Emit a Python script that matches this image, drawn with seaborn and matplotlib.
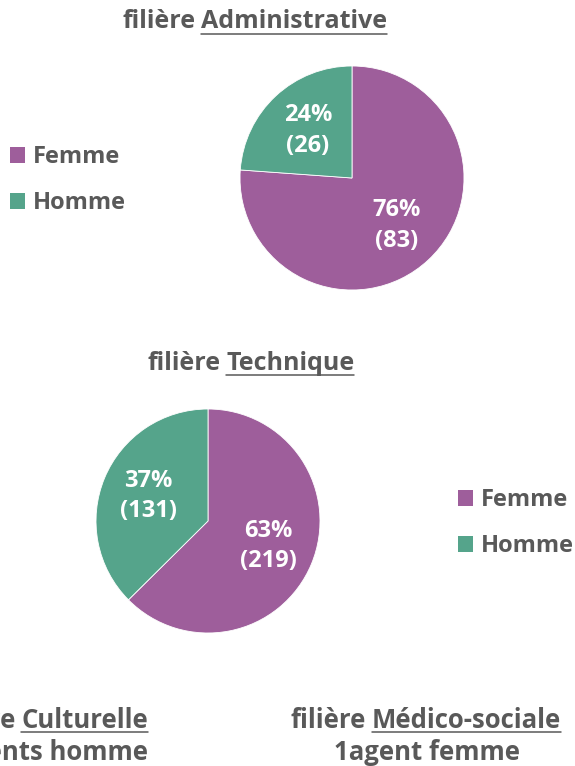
import matplotlib
matplotlib.use("Agg")
import matplotlib.pyplot as plt
import seaborn as sns
from matplotlib.patches import Patch
from matplotlib.lines import Line2D

sns.set_theme(style="white")
plt.rcParams['font.family'] = ['Open Sans', 'DejaVu Sans']

# data
genres = ['Femme', 'Homme']
admin_vals = [83, 26]
tech_vals = [219, 131]
couleurs = ['#9E5E9B', '#55A48B']
gris = '#595959'

W, H = 575, 766
fig = plt.figure(figsize=(W / 100, H / 100), dpi=100)
renderer = fig.canvas.get_renderer()


def px(x, y):
    return x / W, 1 - y / H


def titre(x, y, prefix, word, size=18, align='center'):
    t1 = fig.text(0, 0, prefix, fontsize=size, fontweight='bold', color=gris)
    t2 = fig.text(0, 0, word, fontsize=size, fontweight='bold', color=gris)
    w1 = t1.get_window_extent(renderer).width
    w2 = t2.get_window_extent(renderer).width
    gap = size * 0.3
    total = w1 + gap + w2
    x0 = x - total / 2 if align == 'center' else x - total
    t1.set_position(px(x0, y)); t1.set_va('center')
    t2.set_position(px(x0 + w1 + gap, y)); t2.set_va('center')
    xa, ya = px(x0 + w1 + gap, y + 12)
    xb, _ = px(x0 + w1 + gap + w2, y + 12)
    fig.add_artist(Line2D([xa, xb], [ya, ya], color=gris, lw=1.1))


def camembert(left, top, r, vals):
    ax = fig.add_axes([left / W, 1 - (top + 2 * r) / H, 2 * r / W, 2 * r / H])
    total = sum(vals)
    ax.pie(vals, colors=couleurs, startangle=90, counterclock=False,
           autopct=lambda p: f"{p:.0f}%\n({round(p * total / 100)})",
           pctdistance=0.58, radius=1,
           wedgeprops=dict(edgecolor='white', linewidth=0.6),
           textprops=dict(color='white', fontsize=17, fontweight='bold', linespacing=1.35))
    ax.set_xlim(-1, 1)
    ax.set_ylim(-1, 1)
    ax.set_aspect('equal')
    return ax


def legende(x, y):
    handles = [Patch(facecolor=c, edgecolor='none') for c in couleurs]
    fig.legend(handles, genres, loc='upper left', bbox_to_anchor=px(x, y),
               frameon=False, handlelength=0.65, handleheight=0.65,
               handletextpad=0.3, labelspacing=0.95, borderpad=0, borderaxespad=0,
               prop=dict(size=17, weight='bold'), labelcolor=gris)


# filière Administrative
titre(255, 22, 'filière', 'Administrative')
camembert(240, 66, 112, admin_vals)
legende(10, 145)

# filière Technique
titre(251, 363, 'filière', 'Technique')
camembert(96, 409, 112, tech_vals)
legende(458, 488)

# autres filières (la première est coupée par le bord gauche, comme dans l'original)
titre(148, 720, 'filière', 'Culturelle', size=18.5, align='right')
fig.text(148 / W, 1 - 752 / H, '2 agents homme', ha='right', va='center',
         fontsize=18.5, fontweight='bold', color=gris)
titre(426, 720, 'filière', 'Médico-sociale', size=18.5)
fig.text(427 / W, 1 - 752 / H, '1agent femme', ha='center', va='center',
         fontsize=18.5, fontweight='bold', color=gris)

fig.savefig('out.png', dpi=100)
